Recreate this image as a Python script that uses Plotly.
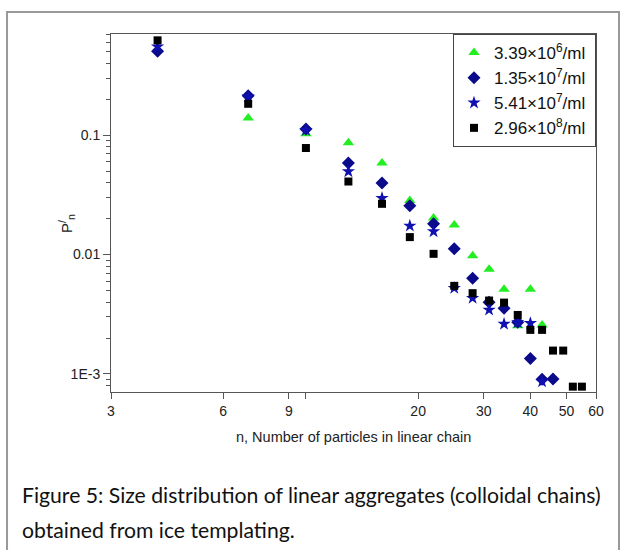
import plotly.graph_objects as go

# ---- data ----
n_green = [7, 10, 13, 16, 19, 22, 25, 28, 31, 34, 37, 40, 43]
p_green = [0.139, 0.1027, 0.0864, 0.0583, 0.0284, 0.0202, 0.0177, 0.00975, 0.00754, 0.00513, 0.00253, 0.00513, 0.00257]

n_dia = [4, 7, 10, 13, 16, 19, 22, 25, 28, 31, 34, 37, 40, 43, 46]
p_dia = [0.503, 0.214, 0.1125, 0.0583, 0.0397, 0.0256, 0.0181, 0.01116, 0.00634, 0.00399, 0.00355, 0.00271, 0.00135, 0.000903, 0.000908]

n_star = [4, 7, 10, 13, 16, 19, 22, 25, 28, 31, 34, 37, 40, 43]
p_star = [0.55, 0.21, 0.11, 0.0496, 0.0297, 0.0174, 0.0156, 0.00523, 0.00431, 0.00344, 0.00262, 0.0027, 0.00266, 0.000862]

n_sq = [4, 7, 10, 13, 16, 19, 22, 25, 28, 31, 34, 37, 40, 43, 46, 49, 52, 55]
p_sq = [0.622, 0.183, 0.078, 0.0409, 0.0266, 0.0140, 0.01014, 0.00547, 0.00475, 0.00412, 0.00396, 0.00312, 0.00234, 0.00234, 0.00157, 0.00157, 0.000783, 0.000783]

series_names = ["3.39×10<sup>6</sup>/ml&nbsp;", "1.35×10<sup>7</sup>/ml&nbsp;", "5.41×10<sup>7</sup>/ml&nbsp;", "2.96×10<sup>8</sup>/ml&nbsp;"]

x_tickvals = [3, 6, 9, 10, 20, 30, 40, 50, 60]
x_ticktext = ["3", "6", "9", "", "20", "30", "40", "50", "60"]
y_tickvals = [0.001, 0.01, 0.1]
y_ticktext = ["1E-3", "0.01", "0.1"]
y_minor = [m * d for d in (0.0001, 0.001, 0.01, 0.1) for m in range(2, 10)]

fig = go.Figure()
fig.add_trace(go.Scatter(x=n_green, y=p_green, mode="markers", name=series_names[0],
                         marker=dict(symbol="triangle-up", size=10, color="#22ee22")))
fig.add_trace(go.Scatter(x=n_dia, y=p_dia, mode="markers", name=series_names[1],
                         marker=dict(symbol="diamond", size=10, color="#0a0a8a")))
fig.add_trace(go.Scatter(x=n_star, y=p_star, mode="markers", name=series_names[2],
                         marker=dict(symbol="star", size=10, color="#1010b0")))
fig.add_trace(go.Scatter(x=n_sq, y=p_sq, mode="markers", name=series_names[3],
                         marker=dict(symbol="square", size=8, color="#000000")))

font_main = "Liberation Sans, Arial, sans-serif"
axis_col = "#555555"

fig.update_layout(
    width=621, height=550,
    margin=dict(l=111, r=25, t=34, b=158),
    paper_bgcolor="white", plot_bgcolor="white",
    font=dict(family=font_main, size=14, color="#222222"),
    showlegend=True,
    legend=dict(x=1, xanchor="right", y=1, yanchor="top",
                bordercolor="#444444", borderwidth=1, bgcolor="white",
                font=dict(family=font_main, size=17, color="#111111"),
                itemwidth=30),
    xaxis=dict(type="log", range=[0.47712, 1.77815],
               tickvals=x_tickvals, ticktext=x_ticktext,
               showgrid=False, zeroline=False,
               showline=True, linecolor=axis_col, linewidth=1, mirror=True,
               ticks="outside", ticklen=6, tickcolor=axis_col,
               tickfont=dict(family=font_main, size=14, color="#222222")),
    yaxis=dict(type="log", range=[-3.151, -0.153],
               tickvals=y_tickvals, ticktext=y_ticktext,
               showgrid=False, zeroline=False,
               showline=True, linecolor=axis_col, linewidth=1, mirror=True,
               ticks="outside", ticklen=7, tickcolor=axis_col,
               tickfont=dict(family=font_main, size=14, color="#222222"),
               minor=dict(tickvals=y_minor, ticks="outside", ticklen=4,
                          tickcolor=axis_col, showgrid=False)),
)

# axis titles
fig.add_annotation(xref="paper", yref="paper", x=0.5, y=-0.125, yanchor="middle",
                   text="n, Number of particles in linear chain", showarrow=False,
                   font=dict(family=font_main, size=14.5, color="#222222"))
fig.add_annotation(xref="paper", yref="paper", x=-0.118, y=0.47, textangle=-90,
                   text="P<sup>/</sup><sub>n</sub>", showarrow=False,
                   font=dict(family=font_main, size=15, color="#222222"))

# caption
cap_font = dict(family="Lato, Noto Sans, sans-serif", size=21.2, color="#111111")
fig.add_annotation(xref="paper", yref="paper", x=-0.1876, xanchor="left", y=-0.2877, yanchor="middle",
                   text="Figure 5: Size distribution of linear aggregates (colloidal chains)",
                   showarrow=False, font=cap_font)
fig.add_annotation(xref="paper", yref="paper", x=-0.1876, xanchor="left", y=-0.385, yanchor="middle",
                   text="obtained from ice templating.", showarrow=False, font=cap_font)

# outer frame
fig.add_shape(type="rect", xref="paper", yref="paper",
              x0=-0.2144, x1=1.0474, y0=-0.47, y1=1.0615,
              line=dict(color="#999999", width=2), fillcolor="rgba(0,0,0,0)", layer="below")

fig.write_html("out.html")
